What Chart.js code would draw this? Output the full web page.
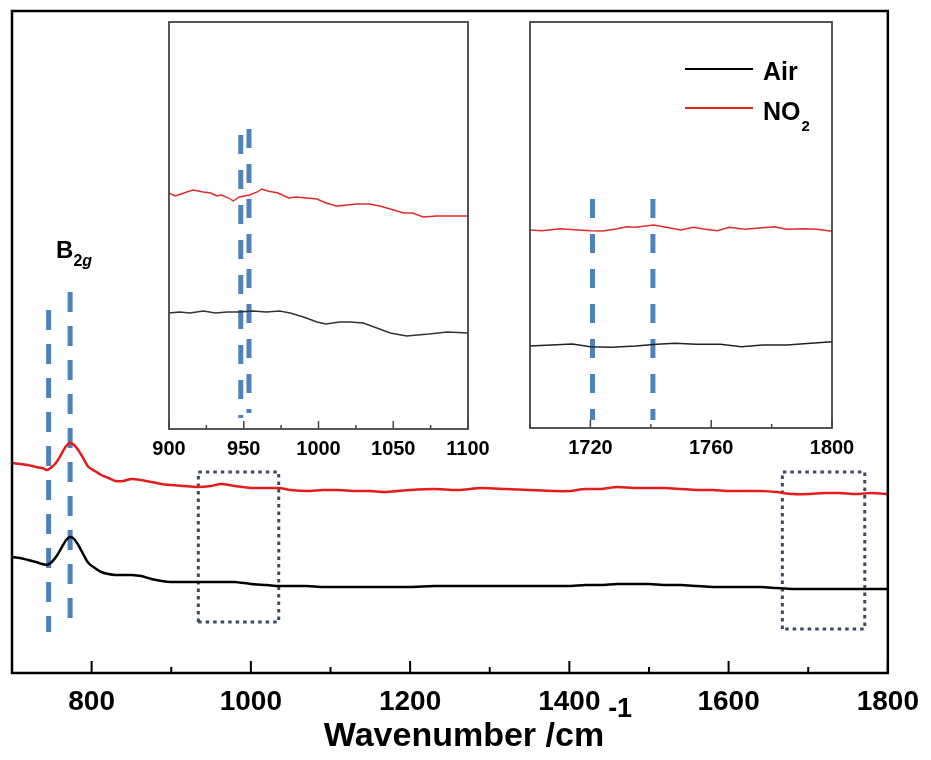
<!DOCTYPE html>
<html>
<head>
<meta charset="utf-8">
<script src="https://cdn.jsdelivr.net/npm/chart.js@4.4.1/dist/chart.umd.min.js"></script>
<style>
  body { margin: 0; background: #fff; }
  #wrap { position: relative; width: 931px; height: 760px; }
  #wrap canvas { position: absolute; left: 0; top: 0; }
</style>
</head>
<body>
<div id="wrap">
  <canvas id="main" width="931" height="760"></canvas>
  <canvas id="ins1" width="931" height="760"></canvas>
  <canvas id="ins2" width="931" height="760"></canvas>
</div>
<script>
// Raman spectra, intensity in arbitrary units
var mainWn = [700, 710, 720, 730, 738, 744, 750, 756, 762, 768,
  773, 778, 784, 790, 796, 804, 812, 821, 830, 840,
  850, 862, 875, 888, 900, 915, 933, 950, 962, 980,
  1000, 1020, 1035, 1050, 1070, 1090, 1110, 1130, 1150, 1170,
  1200, 1230, 1260, 1290, 1320, 1350, 1380, 1400, 1420, 1440,
  1460, 1480, 1500, 1520, 1540, 1560, 1580, 1600, 1620, 1640,
  1660, 1680, 1700, 1720, 1740, 1760, 1780, 1800];
var mainNO2 = [210, 209, 208, 206, 205, 203, 206, 211, 219, 227,
  230, 228, 222, 214, 206, 202, 198, 195, 192, 192,
  194, 193, 191, 189, 188, 187, 186, 187, 189, 187,
  185, 185, 185, 183, 182, 183, 183, 182, 182, 181,
  183, 184, 183, 185, 184, 183, 182, 182, 184, 184,
  186, 185, 185, 185, 184, 183, 183, 182, 182, 182,
  181, 179, 179, 180, 180, 179, 180, 179];
var mainAir = [116, 115, 113, 111, 109, 108, 111, 117, 125, 133,
  136, 134, 127, 118, 110, 105, 101, 99, 98, 98,
  98, 97, 94, 92, 91, 91, 91, 91, 91, 91,
  89, 88, 87, 87, 87, 86, 86, 86, 86, 86,
  86, 87, 87, 87, 87, 87, 87, 87, 88, 88,
  89, 89, 89, 88, 88, 87, 86, 86, 86, 86,
  85, 84, 84, 84, 84, 84, 84, 84];

// inset 900-1100
var ins1NO2Wn = [900, 904, 910, 916, 923, 928, 932, 935, 940, 943, 947, 954, 959, 962, 966, 973, 980,
  985, 992, 999, 1005, 1012, 1019, 1026, 1034, 1041, 1048, 1057, 1063, 1070, 1079, 1088, 1100];
var ins1NO2 = [236, 233, 236, 239, 237, 236, 233, 234, 231, 228, 232, 234, 237, 240, 238, 236, 231,
  232, 231, 230, 226, 223, 224, 225, 225, 223, 220, 216, 216, 212, 213, 213, 213];
var ins1AirWn = [900, 907, 914, 923, 931, 939, 947, 956, 965, 974, 981, 990,
  999, 1005, 1014, 1021, 1030, 1039, 1048, 1059, 1066, 1074, 1086, 1100];
var ins1Air = [116, 117, 116, 118, 116, 117, 117, 118, 117, 118, 116, 112,
  107, 105, 107, 107, 106, 101, 96, 93, 94, 95, 97, 96];

// inset 1700-1800
var ins2NO2Wn = [1700, 1704, 1710, 1716, 1720, 1724, 1729, 1732, 1735, 1741, 1745, 1750,
  1754, 1758, 1762, 1766, 1771, 1776, 1781, 1785, 1791, 1795, 1800];
var ins2NO2 = [198, 197.3, 199.3, 198, 197.3, 197, 199.3, 201.3, 200.7, 203, 200.7, 198,
  200.7, 198.7, 197.3, 200.7, 198.7, 200, 201.3, 198.7, 199.3, 198.7, 196.7];
var ins2AirWn = [1700, 1707, 1714, 1720, 1727, 1735, 1742, 1748, 1755, 1763, 1770, 1777, 1785, 1793, 1800];
var ins2Air = [82, 83, 84, 81.3, 80.7, 82, 83.7, 84.7, 83.7, 83.7, 81.3, 83, 83, 84.7, 86.3];

// tick labels
var mainTickLabels = [800, 1000, 1200, 1400, 1600, 1800];
var ins1TickLabels = [900, 950, 1000, 1050, 1100];
var ins2TickLabels = [1720, 1760, 1800];

// peak marker lines [wavenumber, top, bottom] and zoom boxes [x0, x1, y0, y1]
var mainMarkers = [[746, 363, 41], [773, 381, 48]];
var ins1Markers = [[948, 294, 11], [953.5, 300, 16]];
var ins2Markers = [[1720.7, 229, 8], [1740.7, 229, 8]];
var zoomBoxes = [[934, 1035, 51, 201], [1667.5, 1771, 44, 201]];

var FONT = '"Liberation Sans", Arial, Helvetica, sans-serif';
var BLUE = '#4f81bd';

function pts(xs, ys) {
  return xs.map(function (x, i) { return {x: x, y: ys[i]}; });
}
function markerSets(list, width, dash) {
  return list.map(function (m) {
    return {data: [{x: m[0], y: m[1]}, {x: m[0], y: m[2]}], borderColor: BLUE,
      borderWidth: width, borderDash: dash, borderCapStyle: 'butt'};
  });
}
function boxSets(list) {
  return list.map(function (b) {
    return {data: [{x: b[0], y: b[2]}, {x: b[0], y: b[3]}, {x: b[1], y: b[3]}, {x: b[1], y: b[2]}, {x: b[0], y: b[2]}],
      borderColor: '#3c4a60', borderWidth: 3, borderDash: [3.5, 4]};
  });
}

// frame round the plot area with inward ticks
var framePlugin = {
  id: 'frame',
  afterDatasetsDraw: function (chart, args, o) {
    var ctx = chart.ctx, a = chart.chartArea, x = chart.scales.x;
    ctx.save();
    ctx.strokeStyle = o.color;
    ctx.lineWidth = o.width;
    ctx.strokeRect(a.left, a.top, a.right - a.left, a.bottom - a.top);
    ctx.beginPath();
    x.ticks.forEach(function (t) {
      var px = x.getPixelForValue(t.value);
      var len = o.labels.indexOf(t.value) >= 0 ? o.major : o.minor;
      ctx.moveTo(px, a.bottom);
      ctx.lineTo(px, a.bottom - len);
    });
    ctx.lineWidth = o.tickWidth;
    ctx.stroke();
    ctx.restore();
  }
};

function spectrum(id, cfg) {
  return new Chart(document.getElementById(id), {
    type: 'line',
    data: {datasets: cfg.datasets},
    options: {
      responsive: false,
      animation: false,
      events: [],
      layout: {padding: cfg.pad},
      elements: {point: {radius: 0}},
      plugins: {
        legend: {display: false},
        tooltip: {enabled: false},
        frame: {color: cfg.frameColor, width: cfg.frameWidth, tickWidth: cfg.tickWidth,
          major: cfg.major, minor: cfg.minor, labels: cfg.labels}
      },
      scales: {
        x: {
          type: 'linear', min: cfg.min, max: cfg.max,
          afterFit: function (s) { s.height = cfg.axisH; },
          grid: {display: false, drawTicks: false},
          border: {display: false},
          ticks: {
            stepSize: cfg.step, autoSkip: false, maxRotation: 0, padding: cfg.tickPad,
            color: '#000', font: {family: FONT, size: cfg.fontSize, weight: 'bold'},
            callback: function (v) { return cfg.labels.indexOf(v) >= 0 ? String(v) : ''; }
          }
        },
        y: {display: false, min: 0, max: cfg.yMax}
      }
    },
    plugins: [framePlugin].concat(cfg.extra || [])
  });
}

// axis title and band label on the main chart
var mainText = {
  id: 'mainText',
  afterDraw: function (chart) {
    var ctx = chart.ctx, x = chart.scales.x;
    ctx.save();
    ctx.fillStyle = '#000';
    ctx.textBaseline = 'alphabetic';
    ctx.font = 'bold 34px ' + FONT;
    var t = 'Wavenumber /cm';
    var w = ctx.measureText(t).width;
    ctx.font = 'bold 27px ' + FONT;
    var ws = ctx.measureText('-1').width;
    var left = 478 - (w + ws + 4) / 2;
    ctx.font = 'bold 34px ' + FONT;
    ctx.fillText(t, left, 746);
    ctx.font = 'bold 27px ' + FONT;
    ctx.fillText('-1', left + w + 4, 717);

    var bx = x.getPixelForValue(mainMarkers[1][0]) - 14;
    ctx.font = 'bold 24px ' + FONT;
    ctx.fillText('B', bx, 258);
    var bw = ctx.measureText('B').width;
    ctx.font = 'bold 16px ' + FONT;
    ctx.fillText('2', bx + bw, 266);
    var w2 = ctx.measureText('2').width;
    ctx.font = 'italic bold 16px ' + FONT;
    ctx.fillText('g', bx + bw + w2, 266);
    ctx.restore();
  }
};

// legend in the right inset
var legendText = {
  id: 'legendText',
  afterDraw: function (chart) {
    var ctx = chart.ctx;
    ctx.save();
    ctx.lineWidth = 2;
    ctx.strokeStyle = '#000';
    ctx.beginPath(); ctx.moveTo(685, 69); ctx.lineTo(753, 69); ctx.stroke();
    ctx.strokeStyle = '#e32222';
    ctx.beginPath(); ctx.moveTo(685, 108); ctx.lineTo(753, 108); ctx.stroke();
    ctx.fillStyle = '#000';
    ctx.font = 'bold 25px ' + FONT;
    ctx.fillText('Air', 763, 80);
    ctx.fillText('NO', 763, 120);
    var w = ctx.measureText('NO').width;
    ctx.font = 'bold 15px ' + FONT;
    ctx.fillText('2', 763 + w + 1, 131);
    ctx.restore();
  }
};

spectrum('main', {
  datasets: [
    {data: pts(mainWn, mainAir), borderColor: '#000', borderWidth: 2.5, tension: 0.25},
    {data: pts(mainWn, mainNO2), borderColor: '#e41c1c', borderWidth: 2.5, tension: 0.25}
  ].concat(markerSets(mainMarkers, 5, [20, 14]), boxSets(zoomBoxes)),
  pad: {left: 10, right: 41, top: 11, bottom: 0},
  axisH: 87, min: 700, max: 1800, step: 100, yMax: 662,
  labels: mainTickLabels, fontSize: 28, tickPad: 12,
  frameColor: '#000', frameWidth: 2.5, tickWidth: 2, major: 12, minor: 6,
  extra: [mainText]
});

spectrum('ins1', {
  datasets: [
    {data: pts(ins1AirWn, ins1Air), borderColor: '#333', borderWidth: 1.4},
    {data: pts(ins1NO2Wn, ins1NO2), borderColor: '#e02a2a', borderWidth: 1.4}
  ].concat(markerSets(ins1Markers, 5, [19, 16])),
  pad: {left: 169, right: 463, top: 22, bottom: 301},
  axisH: 30, min: 900, max: 1100, step: 25, yMax: 407,
  labels: ins1TickLabels, fontSize: 20, tickPad: 8,
  frameColor: '#444', frameWidth: 1.8, tickWidth: 1.5, major: 8, minor: 4
});

spectrum('ins2', {
  datasets: [
    {data: pts(ins2AirWn, ins2Air), borderColor: '#222', borderWidth: 1.4},
    {data: pts(ins2NO2Wn, ins2NO2), borderColor: '#e02a2a', borderWidth: 1.4}
  ].concat(markerSets(ins2Markers, 5, [19, 16])),
  pad: {left: 530, right: 99, top: 22, bottom: 302},
  axisH: 30, min: 1700, max: 1800, step: 20, yMax: 406,
  labels: ins2TickLabels, fontSize: 20, tickPad: 8,
  frameColor: '#444', frameWidth: 1.8, tickWidth: 1.5, major: 8, minor: 4,
  extra: [legendText]
});
</script>
</body>
</html>
